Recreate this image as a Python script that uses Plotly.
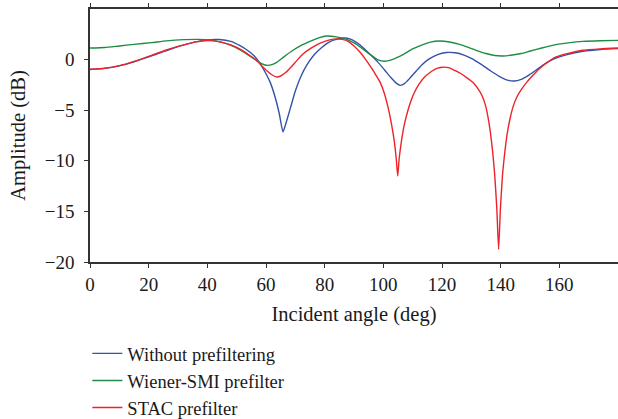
import plotly.graph_objects as go

# Without prefiltering
angle_blue = [0, 5, 10, 15, 20, 25, 30, 35, 40, 44, 48, 51, 54, 56, 58, 60, 61.5, 63, 64.5, 65.8, 67, 68.3,
              70, 72, 74, 76.5, 79, 82, 86, 89, 92, 95, 98, 100.5, 102.5, 104.3, 105.8, 107.3, 109, 111,
              113, 115.5, 118.5, 121.5, 124.5, 127.5, 130.5, 133.5, 136.5, 139.5, 142, 144.7, 147, 149.5,
              152, 155, 158, 162, 168, 174, 180]
amp_blue = [-0.98, -0.87, -0.62, -0.22, 0.28, 0.78, 1.28, 1.68, 1.95, 1.98, 1.8, 1.4, 0.85, 0.35, -0.4, -1.4,
            -2.3, -3.6, -5.3, -7.15, -6.1, -4.8, -3.1, -1.6, -0.5, 0.5, 1.2, 1.8, 2.13, 2.0, 1.45, 0.65,
            -0.2, -1.05, -1.75, -2.3, -2.55, -2.35, -1.85, -1.2, -0.55, 0.05, 0.5, 0.7, 0.68, 0.45, 0.05,
            -0.5, -1.1, -1.65, -2.0, -2.12, -1.95, -1.55, -1.05, -0.45, 0.05, 0.45, 0.82, 1.0, 1.08]

# Wiener-SMI prefilter
angle_green = [0, 5, 10, 15, 21, 26, 32, 37, 41, 45, 48, 51, 54, 56.7, 58.5, 60.1, 62, 63.5, 66, 69.2, 72, 75,
               78, 80.6, 84, 87, 90, 93, 95.5, 98, 100.4, 103, 106.7, 110, 113.5, 116, 119, 122.6, 126, 129,
               131.6, 135, 138, 140.7, 144, 147, 149.8, 154, 158.9, 163, 168, 174, 180]
amp_green = [1.14, 1.2, 1.35, 1.5, 1.68, 1.85, 1.97, 2.0, 1.95, 1.7, 1.4, 0.98, 0.45, -0.07, -0.4, -0.56, -0.5,
             -0.3, 0.25, 0.92, 1.4, 1.8, 2.15, 2.33, 2.25, 2.05, 1.65, 1.05, 0.5, 0.0, -0.17, 0.0, 0.49, 1.05,
             1.48, 1.72, 1.84, 1.74, 1.5, 1.2, 0.92, 0.6, 0.4, 0.36, 0.45, 0.6, 0.82, 1.15, 1.48, 1.65, 1.8,
             1.87, 1.9]

# STAC prefilter
angle_red = [0, 5, 10, 15, 21, 26, 32.3, 36, 39.1, 42, 45, 48, 51, 54, 56.7, 58.5, 60.1, 62, 63.5, 65, 66.8,
             68.5, 70.5, 72.6, 75.5, 78.3, 81.7, 84, 86, 88, 90, 92, 94, 96, 97.5, 99, 100.3, 101.6, 102.8,
             103.8, 104.4, 104.9, 105.4, 106.1, 107.1, 108.5, 110.2, 112, 114, 116.5, 118.5, 120.3, 122.5,
             124.5, 126.5, 128.5, 130.5, 132.3, 133.7, 134.8, 135.7, 136.5, 137.3, 138, 138.7, 139.3, 139.9,
             140.6, 141.4, 142.3, 143.3, 144.4, 145.7, 147.2, 149, 151, 153, 155.5, 158.9, 163, 167.9, 174,
             180]
amp_red = [-0.96, -0.85, -0.6, -0.18, 0.42, 0.95, 1.48, 1.75, 1.87, 1.85, 1.7, 1.45, 1.05, 0.5, -0.07, -0.6,
           -1.05, -1.5, -1.71, -1.62, -1.25, -0.75, -0.1, 0.55, 1.15, 1.6, 1.95, 2.05, 2.0, 1.8, 1.35, 0.75,
           0.0, -0.85, -1.55, -2.3, -3.3, -4.7, -6.4, -8.2, -9.8, -11.5, -9.8, -8.2, -6.5, -4.9, -3.5, -2.5,
           -1.75, -1.15, -0.85, -0.75, -0.82, -1.1, -1.4, -1.8, -2.25, -2.9, -3.6, -4.5, -5.7, -7.2, -9.2,
           -11.5, -14.8, -18.74, -14.8, -11.5, -9.2, -7.2, -5.7, -4.5, -3.6, -2.9, -2.2, -1.55, -0.95,
           -0.35, 0.26, 0.62, 0.92, 1.06, 1.14]

x_ticks = [0, 20, 40, 60, 80, 100, 120, 140, 160]
y_ticks = [-20, -15, -10, -5, 0]

FONT = "Liberation Serif"
LINE = dict(width=1.4, shape="spline", smoothing=0.5)

fig = go.Figure()
fig.add_trace(go.Scatter(x=angle_blue, y=amp_blue, mode="lines", name="Without prefiltering",
                         line=dict(color="#3352A8", **LINE)))
fig.add_trace(go.Scatter(x=angle_green, y=amp_green, mode="lines", name="Wiener-SMI prefilter",
                         line=dict(color="#1E8C45", **LINE)))
fig.add_trace(go.Scatter(x=angle_red, y=amp_red, mode="lines", name="STAC prefilter",
                         line=dict(color="#EE2229", **LINE)))

fig.update_layout(
    width=618, height=419,
    margin=dict(l=90, r=0, t=9, b=157, autoexpand=False),
    paper_bgcolor="white", plot_bgcolor="white",
    font=dict(family=FONT, size=19, color="#1a1a1a"),
    showlegend=True,
    legend=dict(x=-0.005, xanchor="left", y=-0.288, yanchor="top", orientation="v",
                font=dict(family=FONT, size=18.5, color="#1a1a1a"),
                bgcolor="rgba(0,0,0,0)", tracegroupgap=0),
    xaxis=dict(range=[0, 180], tickmode="array", tickvals=x_ticks, ticks="outside", ticklen=4,
               tickcolor="#333", showline=True, linecolor="#333", linewidth=1.5, mirror="ticks",
               showgrid=False, zeroline=False, tickfont=dict(size=19),
               title=dict(text="Incident angle (deg)", font=dict(family=FONT, size=20.5), standoff=13)),
    yaxis=dict(range=[-20, 5], tickmode="array", tickvals=y_ticks, ticks="outside", ticklen=4,
               tickcolor="#333", showline=True, linecolor="#333", linewidth=1.5,
               showgrid=False, zeroline=False, tickfont=dict(size=19), ticklabelstandoff=6,
               title=dict(text="Amplitude (dB)", font=dict(family=FONT, size=20.5), standoff=14)),
)

fig.write_html("out.html")
